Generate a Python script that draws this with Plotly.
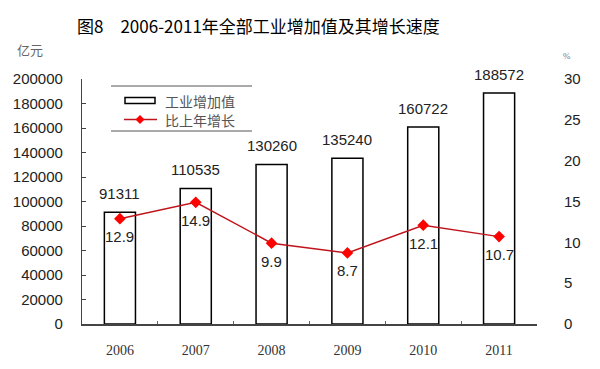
import plotly.graph_objects as go

years = ["2006", "2007", "2008", "2009", "2010", "2011"]
added_value = [91311, 110535, 130260, 135240, 160722, 188572]
growth = [12.9, 14.9, 9.9, 8.7, 12.1, 10.7]
left_ticks = [0, 20000, 40000, 60000, 80000, 100000, 120000, 140000, 160000, 180000, 200000]
right_ticks = [0, 5, 10, 15, 20, 25, 30]

# the page places the figure at an 8px body margin
OFF = 8
W, H = 600 - OFF, 369 - OFF
L, R, T, B = 82 - OFF, 537 - OFF, 79 - OFF, 324 - OFF

def px(x):
    return (x - OFF - L) / (R - L)

def py(y):
    return (B - (y - OFF)) / (B - T)

fig = go.Figure()
fig.add_trace(go.Bar(
    x=years, y=added_value, name="工业增加值",
    marker=dict(color="white", line=dict(color="black", width=1.5)),
    width=0.41, yaxis="y", showlegend=False,
))
fig.add_trace(go.Scatter(
    x=years, y=growth, name="比上年增长", yaxis="y2",
    mode="lines+markers",
    line=dict(color="#C0141C", width=1.5),
    marker=dict(symbol="diamond", size=9, color="#FF0000"),
    showlegend=False,
))

annotations = []
# category axis: annotation x uses the category serial number
for i, v in enumerate(added_value):
    annotations.append(dict(x=i, y=v, xref="x", yref="y", text=str(v), showarrow=False,
                            yshift=19, font=dict(family="Liberation Sans, Arial", size=15, color="#222")))
for i, g in enumerate(growth):
    annotations.append(dict(x=i, y=g, xref="x", yref="y2", text=f"{g}", showarrow=False,
                            yshift=-18, font=dict(family="Liberation Sans, Arial", size=15, color="#222")))

def paper_text(x, y, text, font, xanchor="center"):
    return dict(x=px(x), y=py(y), xref="paper", yref="paper", showarrow=False,
                xanchor=xanchor, yanchor="middle", text=text, font=font)

annotations.append(paper_text(258, 25, "图8　2006-2011年全部工业增加值及其增长速度",
                              dict(family="Noto Sans CJK SC", size=17, color="black")))
annotations.append(paper_text(30, 49, "亿元", dict(family="Noto Sans CJK SC", size=13, color="#666")))
annotations.append(paper_text(567, 56, "%", dict(family="Liberation Serif", size=9, color="#777")))
annotations.append(paper_text(163, 100.5, "工业增加值",
                              dict(family="Noto Sans CJK SC", size=14, color="#555"), xanchor="left"))
annotations.append(paper_text(163, 119.5, "比上年增长",
                              dict(family="Noto Sans CJK SC", size=14, color="#555"), xanchor="left"))

shapes = [
    dict(type="line", xref="paper", yref="paper", x0=px(111), x1=px(252), y0=py(86), y1=py(86),
         line=dict(color="#555", width=1)),
    dict(type="line", xref="paper", yref="paper", x0=px(111), x1=px(252), y0=py(131), y1=py(131),
         line=dict(color="#555", width=1)),
    dict(type="rect", xref="paper", yref="paper", x0=px(125), x1=px(155), y0=py(103.5), y1=py(97.5),
         line=dict(color="black", width=1.5), fillcolor="white"),
    dict(type="line", xref="paper", yref="paper", x0=px(124), x1=px(157), y0=py(119.5), y1=py(119.5),
         line=dict(color="#C0141C", width=1.5)),
]
cx, cy, d = 140, 119.5, 4.5
path = (f"M {px(cx - d)} {py(cy)} L {px(cx)} {py(cy - d)} L {px(cx + d)} {py(cy)} "
        f"L {px(cx)} {py(cy + d)} Z")
shapes.append(dict(type="path", xref="paper", yref="paper", path=path,
                   fillcolor="#FF0000", line=dict(color="#FF0000", width=0)))

fig.update_layout(
    width=W, height=H,
    margin=dict(l=L, r=W - R, t=T, b=H - B, autoexpand=False),
    paper_bgcolor="white", plot_bgcolor="white",
    bargap=0.59,
    xaxis=dict(
        type="category", range=[-0.5, len(years) - 0.5], automargin=False,
        showline=True, linecolor="#444", linewidth=1.5,
        ticks="inside", ticklen=3, tickcolor="#666", tickson="boundaries",
        tickfont=dict(family="Liberation Serif", size=14, color="#333"),
        ticklabelstandoff=12, showgrid=False,
    ),
    yaxis=dict(
        range=[0, 200000], tickvals=left_ticks, ticktext=[str(t) for t in left_ticks],
        automargin=False,
        showline=True, linecolor="#444", linewidth=1.2,
        ticks="inside", ticklen=4, tickcolor="#444",
        tickfont=dict(family="Liberation Sans, Arial", size=15, color="#222"),
        ticklabelstandoff=15, showgrid=False, zeroline=False,
    ),
    yaxis2=dict(
        range=[0, 30], tickvals=right_ticks, overlaying="y", side="right",
        automargin=False,
        showline=False, ticks="", showgrid=False, zeroline=False,
        tickfont=dict(family="Liberation Sans, Arial", size=15, color="#222"),
        ticklabelstandoff=26,
    ),
    annotations=annotations,
    shapes=shapes,
    showlegend=False,
)

fig.write_html("out.html")
